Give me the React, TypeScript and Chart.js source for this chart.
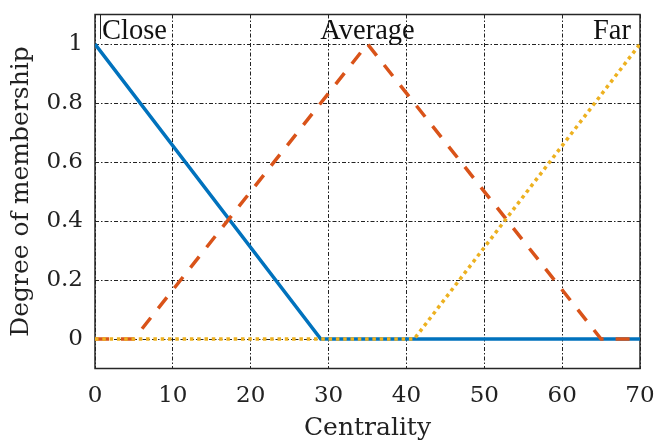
import { useEffect, useRef } from "react";
import { Chart, registerables } from "chart.js";

Chart.register(...registerables);

// Axis ticks
const xTicks = [0, 10, 20, 30, 40, 50, 60, 70];
const yTicks = [0, 0.2, 0.4, 0.6, 0.8, 1];

// Membership functions (breakpoints)
const closeX = [0, 29, 70];
const closeY = [1, 0, 0];
const averageX = [0, 5, 35, 65, 70];
const averageY = [0, 0, 1, 0, 0];
const farX = [0, 41, 70];
const farY = [0, 0, 1];

// Set names written along the top of the plot, with the x value each sits at
const setNames = ["Close", "Average", "Far"];
const setAnchors = [0, 35, 70];

const toPoints = (xs: number[], ys: number[]) => xs.map((x, i) => ({ x, y: ys[i] }));

const TICK_FONT = "'DejaVu Serif', serif";
const TEXT_FONT = "'Liberation Serif', 'Times New Roman', serif";
const GRID_DASH = [4, 2, 1.5, 2];

const framePlugin = {
  id: "frame",
  beforeDatasetsDraw(chart: any) {
    const { ctx, chartArea: a } = chart;
    ctx.save();
    ctx.strokeStyle = "#262626";
    ctx.lineWidth = 1.5;
    ctx.strokeRect(a.left, a.top, a.right - a.left, a.bottom - a.top);
    ctx.restore();
  },
};

const setLabelPlugin = {
  id: "setLabels",
  afterDatasetsDraw(chart: any) {
    const { ctx, chartArea: a, scales } = chart;
    const xs = scales.x;
    const ys = scales.y;
    const baseline = ys.getPixelForValue(1) - 5;
    ctx.save();
    ctx.font = `28.5px ${TEXT_FONT}`;
    ctx.fillStyle = "#111";
    ctx.textBaseline = "alphabetic";
    setNames.forEach((name, i) => {
      const px = xs.getPixelForValue(setAnchors[i]);
      if (i === 0) {
        ctx.textAlign = "left";
        ctx.fillText(name, px + 7, baseline);
      } else if (i === setNames.length - 1) {
        ctx.textAlign = "right";
        ctx.fillText(name, px - 9, baseline);
      } else {
        ctx.textAlign = "center";
        ctx.fillText(name, px, baseline);
      }
    });
    // thin marker line beside the first label
    ctx.strokeStyle = "#222";
    ctx.lineWidth = 1;
    ctx.beginPath();
    ctx.moveTo(a.left + 5.5, a.top);
    ctx.lineTo(a.left + 5.5, baseline);
    ctx.stroke();
    ctx.restore();
  },
};

export default function App() {
  const ref = useRef<HTMLCanvasElement>(null);

  useEffect(() => {
    if (!ref.current) return;
    const chart = new Chart(ref.current, {
      type: "line",
      data: {
        datasets: [
          {
            label: "Close",
            data: toPoints(closeX, closeY),
            borderColor: "#0072BD",
            borderWidth: 3.5,
            pointRadius: 0,
            order: 3,
          },
          {
            label: "Average",
            data: toPoints(averageX, averageY),
            borderColor: "#D95319",
            borderWidth: 3.5,
            borderDash: [14, 12],
            pointRadius: 0,
            order: 2,
          },
          {
            label: "Far",
            data: toPoints(farX, farY),
            borderColor: "#EDB120",
            borderWidth: 3.5,
            borderDash: [3.5, 3.8],
            pointRadius: 0,
            order: 1,
          },
        ],
      },
      options: {
        responsive: false,
        animation: false,
        layout: { padding: { top: 14.5, right: 15, left: 0, bottom: 0 } },
        plugins: {
          legend: { display: false },
          tooltip: { enabled: false },
        },
        scales: {
          x: {
            type: "linear",
            min: 0,
            max: 70,
            afterBuildTicks: (s: any) => {
              s.ticks = xTicks.map((v) => ({ value: v }));
            },
            afterFit: (s: any) => {
              s.height = 72.5;
              s.paddingLeft = 0;
              s.paddingRight = 0;
            },
            border: { display: false, dash: GRID_DASH },
            grid: {
              color: "#222",
              lineWidth: 1,
              drawTicks: false,
            },
            ticks: {
              padding: 14,
              color: "#222",
              font: { family: TICK_FONT, size: 23 },
              maxRotation: 0,
            },
            title: {
              display: true,
              text: "Centrality",
              color: "#222",
              font: { family: TICK_FONT, size: 25, lineHeight: 1 },
              padding: { top: 0, bottom: 0.5 },
            },
          },
          y: {
            type: "linear",
            min: -0.1,
            max: 1.1,
            afterBuildTicks: (s: any) => {
              s.ticks = yTicks.map((v) => ({ value: v }));
            },
            afterFit: (s: any) => {
              s.width = 95;
              s.paddingTop = 0;
              s.paddingBottom = 0;
            },
            border: { display: false, dash: GRID_DASH },
            grid: {
              color: "#222",
              lineWidth: 1,
              drawTicks: false,
            },
            ticks: {
              padding: 12,
              color: "#222",
              font: { family: TICK_FONT, size: 23 },
              callback: (v: any) => String(Number(v)),
            },
            title: {
              display: true,
              text: "Degree of membership",
              color: "#222",
              font: { family: TICK_FONT, size: 25, lineHeight: 1.2 },
              padding: { top: 6, bottom: 0 },
            },
          },
        },
      },
      plugins: [framePlugin, setLabelPlugin],
    });
    return () => chart.destroy();
  }, []);

  return (
    <div style={{ position: "absolute", left: 0, top: 0, width: 655, height: 441, background: "#fff" }}>
      <canvas ref={ref} width={655} height={441} style={{ display: "block" }} />
    </div>
  );
}
